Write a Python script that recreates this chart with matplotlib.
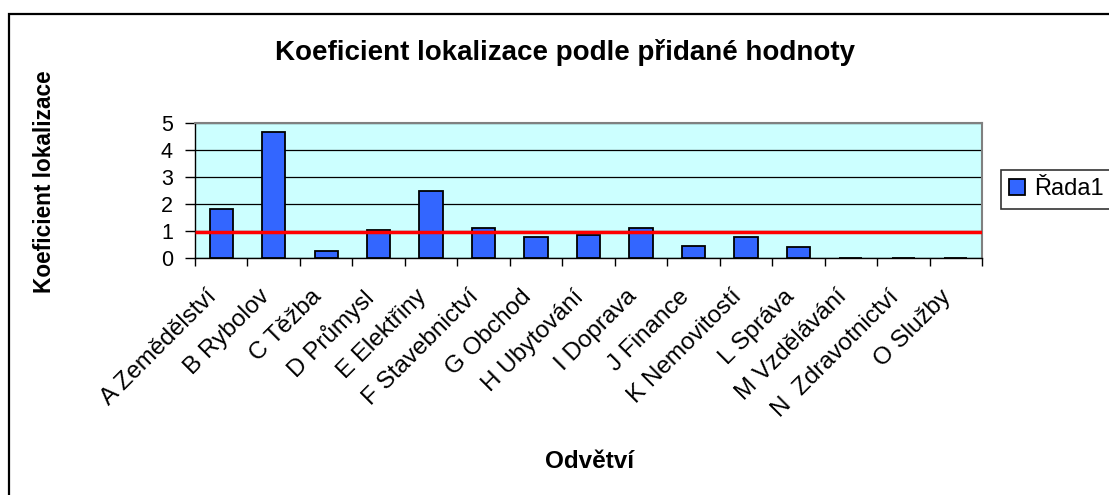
import matplotlib
matplotlib.use("Agg")
import matplotlib.pyplot as plt
from matplotlib.patches import Rectangle
import numpy as np

categories = ["A Zemědělství", "B Rybolov", "C Těžba", "D Průmysl", "E Elektřiny",
              "F Stavebnictví", "G Obchod", "H Ubytování", "I Doprava", "J Finance",
              "K Nemovitostí", "L Správa", "M Vzdělávání", "N  Zdravotnictví", "O Služby"]
values = [1.83, 4.68, 0.26, 1.04, 2.48, 1.10, 0.78, 0.84, 1.10, 0.46, 0.78, 0.40, 0, 0, 0]
series_name = "Řada1"
reference_level = [0.97]
y_ticks = [0, 1, 2, 3, 4, 5]

plt.rcParams['font.family'] = ['Liberation Sans', 'DejaVu Sans']

W, H = 1109, 495
fig = plt.figure(figsize=(W / 100, H / 100), dpi=100)

# outer chart border
fig.patches.append(Rectangle((8.5 / W, -0.2), 2, (H - 14) / H + 0.2, transform=fig.transFigure,
                             fill=False, edgecolor='black', linewidth=1.6, figure=fig))

left, right, top, bottom = 195, 982, 123, 258
ax = fig.add_axes([left / W, (H - bottom) / H, (right - left) / W, (bottom - top) / H])
ax.set_facecolor('#CCFFFF')

x = np.arange(len(categories))
bars = ax.bar(x, values, width=0.444, color='#3366FF', edgecolor='black', linewidth=1.3,
              label=series_name, zorder=3)
ax.hlines(reference_level, -0.5, len(categories) - 0.5, colors='#FF0000', linewidth=2.5, zorder=4)

ax.set_xlim(-0.5, len(categories) - 0.5)
ax.set_ylim(0, 5)
ax.set_yticks(y_ticks)
ax.set_yticklabels([str(v) for v in y_ticks], fontsize=15.5)
ax.yaxis.grid(True, color='black', linewidth=0.9, zorder=1)
ax.set_axisbelow(True)

ax.set_xticks(np.arange(len(categories) + 1) - 0.5)
ax.set_xticklabels([])
ax.set_xticks(x, minor=True)
ax.set_xticklabels(categories, minor=True, rotation=45, ha='right', va='top', fontsize=17.5)
ax.tick_params(axis='x', which='minor', length=0, pad=20)
ax.tick_params(axis='x', which='major', length=6, width=1, color='black', direction='out')
ax.tick_params(axis='y', length=7, width=1, color='black', direction='out', pad=9)

for s in ['top', 'right']:
    ax.spines[s].set_color('#808080')
    ax.spines[s].set_linewidth(1.5)
for s in ['left', 'bottom']:
    ax.spines[s].set_color('black')
    ax.spines[s].set_linewidth(1)

fig.text(565 / W, 1 - 52 / H, "Koeficient lokalizace podle přidané hodnoty",
         ha='center', va='center', fontsize=20, fontweight='bold')
fig.text(45 / W, 1 - 182 / H, "Koeficient lokalizace", rotation=90,
         ha='center', va='center', fontsize=16.3, fontweight='bold')
fig.text(589 / W, 1 - 462 / H, "Odvětví", ha='center', va='center',
         fontsize=17.5, fontweight='bold')

fs_leg = 17
em = fs_leg * 100 / 72
leg = fig.legend(handles=[bars], labels=[series_name], loc='upper left',
                 bbox_to_anchor=(1001 / W, 1 - 170 / H), bbox_transform=fig.transFigure,
                 borderaxespad=0, frameon=True, fancybox=False, edgecolor='black',
                 fontsize=fs_leg, handlelength=16 / em, handleheight=16 / em,
                 handletextpad=9 / em, borderpad=0.35)
leg.get_frame().set_linewidth(1.2)

fig.savefig("out.png", dpi=100)
